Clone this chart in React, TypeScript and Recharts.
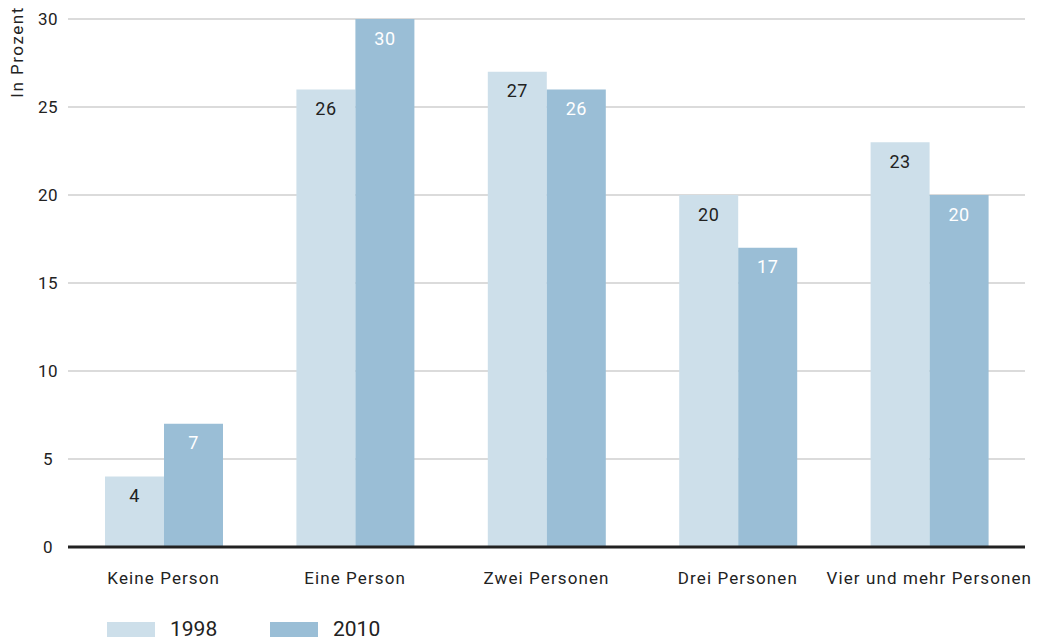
import { BarChart, Bar, XAxis, YAxis, CartesianGrid, LabelList } from 'recharts';

const categories = ['Keine Person', 'Eine Person', 'Zwei Personen', 'Drei Personen', 'Vier und mehr Personen'];
const values1998 = [4, 26, 27, 20, 23];
const values2010 = [7, 30, 26, 17, 20];
const yTicks = [0, 5, 10, 15, 20, 25, 30];

const LIGHT = '#cddfea';
const DARK = '#9abed6';
const TEXT = '#222222';
const FONT = 'Roboto, "DejaVu Sans", sans-serif';

const chartData = categories.map((name, i) => ({
    name,
    y1998: values1998[i],
    y2010: values2010[i],
}));

const makeLabel = (color: string) => (props: any) => {
    const { x, y, width, value } = props;
    return (
        <text
            x={x + width / 2}
            y={y + 19}
            textAnchor="middle"
            dominantBaseline="central"
            fill={color}
            fontSize={18}
            letterSpacing={0.5}
            fontFamily={FONT}
        >
            {value}
        </text>
    );
};

const YTick = (props: any) => {
    const { y, payload } = props;
    return (
        <text x={48} y={y} textAnchor="middle" dominantBaseline="central" fill={TEXT} fontSize={17} letterSpacing={0.5} fontFamily={FONT}>
            {payload.value}
        </text>
    );
};

const XTick = (props: any) => {
    const { x, payload } = props;
    return (
        <text x={x} y={578} textAnchor="middle" dominantBaseline="central" fill={TEXT} fontSize={17} letterSpacing={1.1} fontFamily={FONT}>
            {payload.value}
        </text>
    );
};

export default function App() {
    const legend = [
        { label: '1998', color: LIGHT, left: 107 },
        { label: '2010', color: DARK, left: 270 },
    ];
    return (
        <div style={{ position: 'absolute', left: 0, top: 0, width: 1042, height: 640, background: '#fff' }}>
            <BarChart
                width={1042}
                height={640}
                data={chartData}
                margin={{ top: 19, right: 17, left: 2, bottom: 63 }}
                barGap={0}
                barSize={59}
            >
                <CartesianGrid vertical={false} stroke="#cfcfcf" strokeWidth={1.5} />
                <XAxis
                    dataKey="name"
                    height={30}
                    tickLine={false}
                    axisLine={{ stroke: TEXT, strokeWidth: 3 }}
                    tick={<XTick />}
                    interval={0}
                />
                <YAxis
                    width={66}
                    domain={[0, 30]}
                    ticks={yTicks}
                    tickLine={false}
                    axisLine={false}
                    tick={<YTick />}
                    label={{
                        content: () => (
                            <text
                                x={17}
                                y={52}
                                transform="rotate(-90 17 52)"
                                textAnchor="middle"
                                dominantBaseline="central"
                                fill={TEXT}
                                fontSize={17}
                                letterSpacing={1.5}
                                fontFamily={FONT}
                            >
                                In Prozent
                            </text>
                        ),
                    }}
                />
                <Bar dataKey="y1998" fill={LIGHT} isAnimationActive={false}>
                    <LabelList dataKey="y1998" content={makeLabel(TEXT)} />
                </Bar>
                <Bar dataKey="y2010" fill={DARK} isAnimationActive={false}>
                    <LabelList dataKey="y2010" content={makeLabel('#ffffff')} />
                </Bar>
            </BarChart>
            {legend.map(item => (
                <div key={item.label} style={{ position: 'absolute', left: item.left, top: 619, display: 'flex', alignItems: 'center' }}>
                    <div style={{ width: 48, height: 15, background: item.color }} />
                    <span style={{ marginLeft: 15, fontSize: 21, fontFamily: FONT, color: TEXT, lineHeight: '21px' }}>{item.label}</span>
                </div>
            ))}
        </div>
    );
}
